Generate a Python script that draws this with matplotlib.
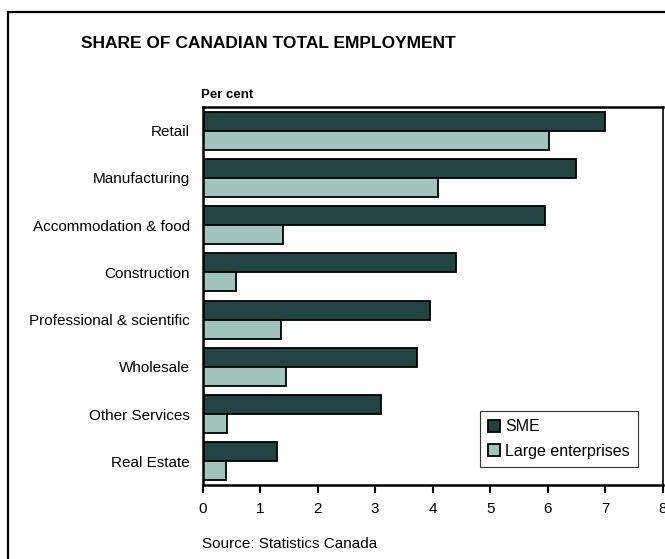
import matplotlib.pyplot as plt
import numpy as np
from matplotlib.patches import Rectangle

plt.rcParams['font.family'] = ['Liberation Sans', 'DejaVu Sans']

categories = ['Retail', 'Manufacturing', 'Accommodation & food', 'Construction',
              'Professional & scientific', 'Wholesale', 'Other Services', 'Real Estate']
sme = [7.0, 6.5, 5.95, 4.4, 3.96, 3.72, 3.1, 1.3]
large = [6.03, 4.1, 1.4, 0.58, 1.36, 1.45, 0.42, 0.41]
x_ticks = [0, 1, 2, 3, 4, 5, 6, 7, 8]

sme_color = '#234440'
large_color = '#a3c4bd'

fig = plt.figure(figsize=(6.65, 5.59), dpi=100)
ax = fig.add_axes([0.3048, 0.1324, 0.6917, 0.6762])

y = np.arange(len(categories))
h = 0.4
ax.barh(y - h / 2, sme, height=h, color=sme_color, edgecolor='black',
        linewidth=1.3, label='SME')
ax.barh(y + h / 2, large, height=h, color=large_color, edgecolor='black',
        linewidth=1.3, label='Large enterprises')

ax.set_ylim(len(categories) - 0.5, -0.5)
ax.set_xlim(0, 8)
ax.set_yticks(y)
ax.set_yticklabels(categories, fontsize=11)
ax.set_xticks(x_ticks)
ax.set_xticklabels([str(t) for t in x_ticks], fontsize=11)
ax.tick_params(axis='y', length=0, pad=9)
ax.tick_params(axis='x', length=6, width=1.5, direction='out', pad=6)

for side in ['top', 'bottom', 'left']:
    ax.spines[side].set_linewidth(1.8)
ax.spines['right'].set_linewidth(1.2)

leg = ax.legend(loc='lower right', bbox_to_anchor=(0.946, 0.048), fontsize=11.5,
                frameon=True, fancybox=False, handlelength=0.8, handleheight=0.8,
                handletextpad=0.3, borderpad=0.5, labelspacing=0.6,
                borderaxespad=0)
leg.get_frame().set_edgecolor('black')
leg.get_frame().set_linewidth(0.8)

fig.text(0.403, 0.922, 'SHARE OF CANADIAN TOTAL EMPLOYMENT', fontsize=12.5,
         fontweight='bold', ha='center', va='center')
fig.text(0.302, 0.830, 'Per cent', fontsize=9.5, fontweight='bold',
         ha='left', va='center')
fig.text(0.304, 0.027, 'Source: Statistics Canada', fontsize=11,
         ha='left', va='center')

# outer frame, cut off on the right and bottom like the original
fig.patches.append(Rectangle((0.012, -0.05), 1.1, 0.9785 + 0.05,
                             transform=fig.transFigure, fill=False,
                             edgecolor='black', linewidth=1.6, clip_on=False))

fig.savefig('out.png', dpi=100)
